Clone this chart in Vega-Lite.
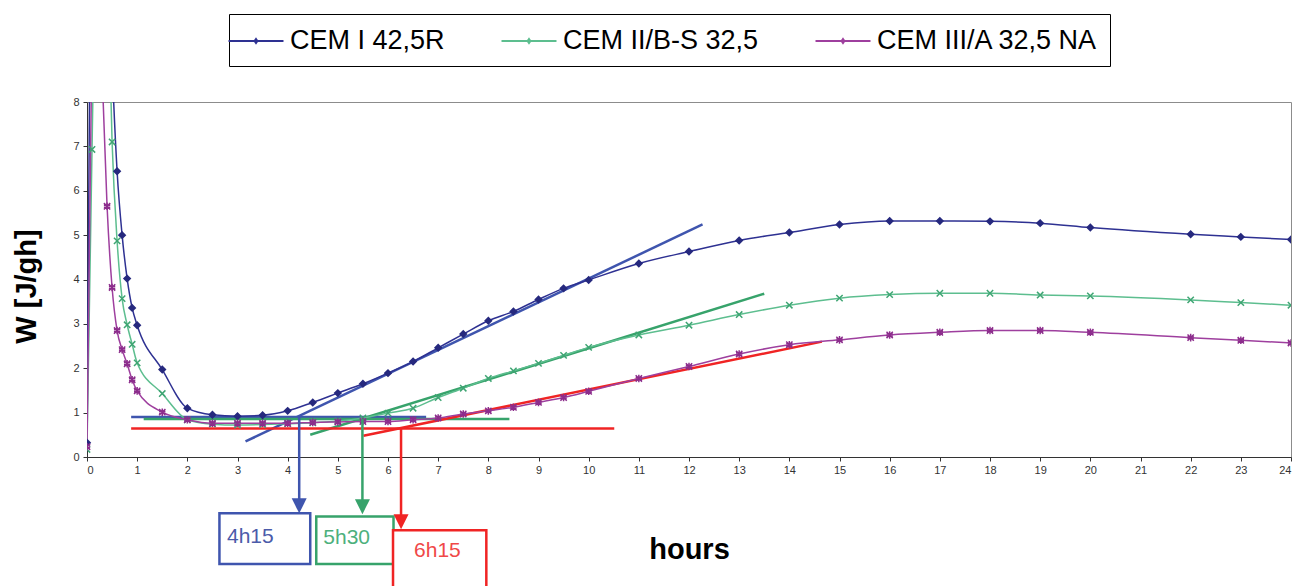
{
  "$schema": "https://vega.github.io/schema/vega-lite/v6.json",
  "width": 1204,
  "height": 355,
  "autosize": {"type": "none"},
  "padding": {"left": 87, "top": 102, "right": 8, "bottom": 129},
  "background": "white",
  "config": {"view": {"stroke": "#8c8c8c", "strokeWidth": 1}, "font": "Liberation Sans"},
  "datasets": {
    "curves": [
      {"s": "CEM I 42,5R", "h": 0, "w": 0.32}, {"s": "CEM I 42,5R", "h": 0.1, "w": 16}, {"s": "CEM I 42,5R", "h": 0.2, "w": 20}, {"s": "CEM I 42,5R", "h": 0.3, "w": 17}, {"s": "CEM I 42,5R", "h": 0.4, "w": 12.5}, {"s": "CEM I 42,5R", "h": 0.5, "w": 8.9}, {"s": "CEM I 42,5R", "h": 0.6, "w": 6.44}, {"s": "CEM I 42,5R", "h": 0.7, "w": 5.0}, {"s": "CEM I 42,5R", "h": 0.8, "w": 4.02}, {"s": "CEM I 42,5R", "h": 0.9, "w": 3.36}, {"s": "CEM I 42,5R", "h": 1.0, "w": 2.97}, {"s": "CEM I 42,5R", "h": 1.5, "w": 1.97}, {"s": "CEM I 42,5R", "h": 2.0, "w": 1.10}, {"s": "CEM I 42,5R", "h": 2.5, "w": 0.95}, {"s": "CEM I 42,5R", "h": 3.0, "w": 0.92}, {"s": "CEM I 42,5R", "h": 3.5, "w": 0.94}, {"s": "CEM I 42,5R", "h": 4.0, "w": 1.04}, {"s": "CEM I 42,5R", "h": 4.5, "w": 1.23}, {"s": "CEM I 42,5R", "h": 5.0, "w": 1.44}, {"s": "CEM I 42,5R", "h": 5.5, "w": 1.65}, {"s": "CEM I 42,5R", "h": 6.0, "w": 1.89}, {"s": "CEM I 42,5R", "h": 6.5, "w": 2.15}, {"s": "CEM I 42,5R", "h": 7.0, "w": 2.46}, {"s": "CEM I 42,5R", "h": 7.5, "w": 2.77}, {"s": "CEM I 42,5R", "h": 8.0, "w": 3.07}, {"s": "CEM I 42,5R", "h": 8.5, "w": 3.28}, {"s": "CEM I 42,5R", "h": 9.0, "w": 3.55}, {"s": "CEM I 42,5R", "h": 9.5, "w": 3.80}, {"s": "CEM I 42,5R", "h": 10, "w": 3.99}, {"s": "CEM I 42,5R", "h": 11, "w": 4.36}, {"s": "CEM I 42,5R", "h": 12, "w": 4.63}, {"s": "CEM I 42,5R", "h": 13, "w": 4.88}, {"s": "CEM I 42,5R", "h": 14, "w": 5.06}, {"s": "CEM I 42,5R", "h": 15, "w": 5.24}, {"s": "CEM I 42,5R", "h": 16, "w": 5.32}, {"s": "CEM I 42,5R", "h": 17, "w": 5.32}, {"s": "CEM I 42,5R", "h": 18, "w": 5.31}, {"s": "CEM I 42,5R", "h": 19, "w": 5.27}, {"s": "CEM I 42,5R", "h": 20, "w": 5.17}, {"s": "CEM I 42,5R", "h": 22, "w": 5.02}, {"s": "CEM I 42,5R", "h": 23, "w": 4.96}, {"s": "CEM I 42,5R", "h": 24, "w": 4.90},
      {"s": "CEM II/B-S 32,5", "h": 0, "w": 0.17}, {"s": "CEM II/B-S 32,5", "h": 0.1, "w": 6.93}, {"s": "CEM II/B-S 32,5", "h": 0.2, "w": 13}, {"s": "CEM II/B-S 32,5", "h": 0.3, "w": 14}, {"s": "CEM II/B-S 32,5", "h": 0.4, "w": 11.5}, {"s": "CEM II/B-S 32,5", "h": 0.5, "w": 7.1}, {"s": "CEM II/B-S 32,5", "h": 0.6, "w": 4.87}, {"s": "CEM II/B-S 32,5", "h": 0.7, "w": 3.57}, {"s": "CEM II/B-S 32,5", "h": 0.8, "w": 2.98}, {"s": "CEM II/B-S 32,5", "h": 0.9, "w": 2.54}, {"s": "CEM II/B-S 32,5", "h": 1.0, "w": 2.12}, {"s": "CEM II/B-S 32,5", "h": 1.5, "w": 1.43}, {"s": "CEM II/B-S 32,5", "h": 2.0, "w": 0.84}, {"s": "CEM II/B-S 32,5", "h": 2.5, "w": 0.74}, {"s": "CEM II/B-S 32,5", "h": 3.0, "w": 0.72}, {"s": "CEM II/B-S 32,5", "h": 3.5, "w": 0.73}, {"s": "CEM II/B-S 32,5", "h": 4.0, "w": 0.75}, {"s": "CEM II/B-S 32,5", "h": 4.5, "w": 0.77}, {"s": "CEM II/B-S 32,5", "h": 5.0, "w": 0.81}, {"s": "CEM II/B-S 32,5", "h": 5.5, "w": 0.88}, {"s": "CEM II/B-S 32,5", "h": 6.0, "w": 0.99}, {"s": "CEM II/B-S 32,5", "h": 6.5, "w": 1.10}, {"s": "CEM II/B-S 32,5", "h": 7.0, "w": 1.34}, {"s": "CEM II/B-S 32,5", "h": 7.5, "w": 1.55}, {"s": "CEM II/B-S 32,5", "h": 8.0, "w": 1.77}, {"s": "CEM II/B-S 32,5", "h": 8.5, "w": 1.94}, {"s": "CEM II/B-S 32,5", "h": 9.0, "w": 2.11}, {"s": "CEM II/B-S 32,5", "h": 9.5, "w": 2.29}, {"s": "CEM II/B-S 32,5", "h": 10, "w": 2.47}, {"s": "CEM II/B-S 32,5", "h": 11, "w": 2.75}, {"s": "CEM II/B-S 32,5", "h": 12, "w": 2.97}, {"s": "CEM II/B-S 32,5", "h": 13, "w": 3.21}, {"s": "CEM II/B-S 32,5", "h": 14, "w": 3.42}, {"s": "CEM II/B-S 32,5", "h": 15, "w": 3.58}, {"s": "CEM II/B-S 32,5", "h": 16, "w": 3.66}, {"s": "CEM II/B-S 32,5", "h": 17, "w": 3.69}, {"s": "CEM II/B-S 32,5", "h": 18, "w": 3.69}, {"s": "CEM II/B-S 32,5", "h": 19, "w": 3.65}, {"s": "CEM II/B-S 32,5", "h": 20, "w": 3.63}, {"s": "CEM II/B-S 32,5", "h": 22, "w": 3.54}, {"s": "CEM II/B-S 32,5", "h": 23, "w": 3.48}, {"s": "CEM II/B-S 32,5", "h": 24, "w": 3.42},
      {"s": "CEM III/A 32,5 NA", "h": 0, "w": 0.23}, {"s": "CEM III/A 32,5 NA", "h": 0.1, "w": 9.5}, {"s": "CEM III/A 32,5 NA", "h": 0.2, "w": 11}, {"s": "CEM III/A 32,5 NA", "h": 0.3, "w": 8.7}, {"s": "CEM III/A 32,5 NA", "h": 0.4, "w": 5.65}, {"s": "CEM III/A 32,5 NA", "h": 0.5, "w": 3.82}, {"s": "CEM III/A 32,5 NA", "h": 0.6, "w": 2.85}, {"s": "CEM III/A 32,5 NA", "h": 0.7, "w": 2.42}, {"s": "CEM III/A 32,5 NA", "h": 0.8, "w": 2.10}, {"s": "CEM III/A 32,5 NA", "h": 0.9, "w": 1.74}, {"s": "CEM III/A 32,5 NA", "h": 1.0, "w": 1.49}, {"s": "CEM III/A 32,5 NA", "h": 1.5, "w": 1.01}, {"s": "CEM III/A 32,5 NA", "h": 2.0, "w": 0.84}, {"s": "CEM III/A 32,5 NA", "h": 2.5, "w": 0.76}, {"s": "CEM III/A 32,5 NA", "h": 3.0, "w": 0.76}, {"s": "CEM III/A 32,5 NA", "h": 3.5, "w": 0.76}, {"s": "CEM III/A 32,5 NA", "h": 4.0, "w": 0.76}, {"s": "CEM III/A 32,5 NA", "h": 4.5, "w": 0.78}, {"s": "CEM III/A 32,5 NA", "h": 5.0, "w": 0.79}, {"s": "CEM III/A 32,5 NA", "h": 5.5, "w": 0.80}, {"s": "CEM III/A 32,5 NA", "h": 6.0, "w": 0.80}, {"s": "CEM III/A 32,5 NA", "h": 6.5, "w": 0.84}, {"s": "CEM III/A 32,5 NA", "h": 7.0, "w": 0.88}, {"s": "CEM III/A 32,5 NA", "h": 7.5, "w": 0.97}, {"s": "CEM III/A 32,5 NA", "h": 8.0, "w": 1.04}, {"s": "CEM III/A 32,5 NA", "h": 8.5, "w": 1.12}, {"s": "CEM III/A 32,5 NA", "h": 9.0, "w": 1.23}, {"s": "CEM III/A 32,5 NA", "h": 9.5, "w": 1.34}, {"s": "CEM III/A 32,5 NA", "h": 10, "w": 1.48}, {"s": "CEM III/A 32,5 NA", "h": 11, "w": 1.77}, {"s": "CEM III/A 32,5 NA", "h": 12, "w": 2.04}, {"s": "CEM III/A 32,5 NA", "h": 13, "w": 2.32}, {"s": "CEM III/A 32,5 NA", "h": 14, "w": 2.53}, {"s": "CEM III/A 32,5 NA", "h": 15, "w": 2.64}, {"s": "CEM III/A 32,5 NA", "h": 16, "w": 2.75}, {"s": "CEM III/A 32,5 NA", "h": 17, "w": 2.81}, {"s": "CEM III/A 32,5 NA", "h": 18, "w": 2.85}, {"s": "CEM III/A 32,5 NA", "h": 19, "w": 2.85}, {"s": "CEM III/A 32,5 NA", "h": 20, "w": 2.81}, {"s": "CEM III/A 32,5 NA", "h": 22, "w": 2.69}, {"s": "CEM III/A 32,5 NA", "h": 23, "w": 2.63}, {"s": "CEM III/A 32,5 NA", "h": 24, "w": 2.57}
    ],
    "guides": [
      {"g": "4h15", "k": "level", "h": 0.88, "w": 0.90}, {"g": "4h15", "k": "level", "h": 6.76, "w": 0.90},
      {"g": "4h15", "k": "tangent", "h": 3.16, "w": 0.35}, {"g": "4h15", "k": "tangent", "h": 12.27, "w": 5.24},
      {"g": "5h30", "k": "level", "h": 1.13, "w": 0.855}, {"g": "5h30", "k": "level", "h": 8.42, "w": 0.855},
      {"g": "5h30", "k": "tangent", "h": 4.45, "w": 0.50}, {"g": "5h30", "k": "tangent", "h": 13.5, "w": 3.68},
      {"g": "6h15", "k": "level", "h": 0.88, "w": 0.64}, {"g": "6h15", "k": "level", "h": 10.51, "w": 0.64},
      {"g": "6h15", "k": "tangent", "h": 5.51, "w": 0.48}, {"g": "6h15", "k": "tangent", "h": 14.65, "w": 2.60}
    ],
    "boxes": [
      {"g": "4h15", "h": 2.64, "h2": 4.45, "w": -1.27, "w2": -2.41},
      {"g": "5h30", "h": 4.57, "h2": 6.11, "w": -1.34, "w2": -2.41},
      {"g": "6h15", "h": 6.10, "h2": 7.96, "w": -1.65, "w2": -3.1}
    ],
    "arrows": [
      {"g": "4h15", "h": 4.23, "w": 0.90, "w2": -1.0},
      {"g": "5h30", "h": 5.49, "w": 0.855, "w2": -1.0},
      {"g": "6h15", "h": 6.26, "w": 0.64, "w2": -1.4}
    ],
    "heads": [
      {"g": "4h15", "h": 4.23, "w": -1.27},
      {"g": "5h30", "h": 5.49, "w": -1.29},
      {"g": "6h15", "h": 6.26, "w": -1.63}
    ],
    "labels": [
      {"g": "4h15", "h": 2.79, "w": -1.94},
      {"g": "5h30", "h": 4.71, "w": -1.97},
      {"g": "6h15", "h": 6.52, "w": -2.26}
    ]
  },
  "encoding": {
    "x": {
      "field": "h", "type": "quantitative",
      "scale": {"domain": [0, 24], "nice": false, "zero": false},
      "axis": {
        "values": [0,1,2,3,4,5,6,7,8,9,10,11,12,13,14,15,16,17,18,19,20,21,22,23,24],
        "grid": false, "labelFontSize": 11, "labelColor": "#333", "labelPadding": 3,
        "domainColor": "#333", "tickColor": "#333", "tickSize": 4,
        "title": "hours", "titleFontSize": 29, "titleFontWeight": "bold", "titleColor": "black",
        "titleX": 602, "titleY": 101, "titleBaseline": "alphabetic", "titleAlign": "center"
      }
    },
    "y": {
      "field": "w", "type": "quantitative",
      "scale": {"domain": [0, 8], "nice": false, "zero": false},
      "axis": {
        "values": [0,1,2,3,4,5,6,7,8],
        "grid": false, "labelFontSize": 11, "labelColor": "#333", "labelPadding": 4,
        "domainColor": "#333", "tickColor": "#333", "tickSize": 4,
        "title": "W [J/gh]", "titleFontSize": 29, "titleFontWeight": "bold", "titleColor": "black",
        "titleX": -52, "titleY": 184, "titleAngle": -90, "titleBaseline": "alphabetic", "titleAlign": "center"
      }
    }
  },
  "layer": [
    {
      "data": {"name": "guides"},
      "mark": {"type": "line", "strokeWidth": 2.5, "clip": false},
      "encoding": {
        "color": {"field": "g", "type": "nominal", "scale": {"domain": ["4h15", "5h30", "6h15"], "range": ["#3F55AE", "#37A36B", "#F02424"]}, "legend": null},
        "detail": {"field": "k"}
      }
    },
    {
      "data": {"name": "curves"},
      "mark": {"type": "line", "strokeWidth": 1.5, "interpolate": "monotone", "clip": true},
      "encoding": {
        "color": {
          "field": "s", "type": "nominal",
          "scale": {"domain": ["CEM I 42,5R", "CEM II/B-S 32,5", "CEM III/A 32,5 NA"], "range": ["#2E3192", "#5DBE8F", "#9E3F9E"]},
          "legend": {
            "orient": "none", "legendX": 142, "legendY": -88, "direction": "horizontal", "title": null,
            "symbolType": "M-2,0L2,0M0,-0.14L0.1,0L0,0.14L-0.1,0Z", "symbolSize": 756, "symbolStrokeWidth": 2,
            "labelFontSize": 27, "labelFont": "Liberation Sans", "labelColor": "black", "labelOffset": 19, "labelLimit": 0,
            "columnPadding": 52, "strokeColor": "black", "fillColor": "white", "padding": 12
          }
        }
      }
    },
    {
      "data": {"name": "curves"},
      "mark": {"type": "point", "filled": true, "size": 40, "strokeWidth": 1.5, "opacity": 1, "clip": true},
      "encoding": {
        "fill": {"field": "s", "type": "nominal", "scale": {"domain": ["CEM I 42,5R", "CEM II/B-S 32,5", "CEM III/A 32,5 NA"], "range": ["#26297E", "#3FA573", "#8C2D8C"]}, "legend": null},
        "stroke": {"field": "s", "type": "nominal", "scale": {"domain": ["CEM I 42,5R", "CEM II/B-S 32,5", "CEM III/A 32,5 NA"], "range": ["#26297E", "#3FA573", "#8C2D8C"]}, "legend": null},
        "shape": {"field": "s", "type": "nominal", "scale": {"domain": ["CEM I 42,5R", "CEM II/B-S 32,5", "CEM III/A 32,5 NA"], "range": ["diamond", "M-1,-1L1,1M1,-1L-1,1", "M-1,-1L1,1M1,-1L-1,1M0,-1.2L0,1.2M-1,-0.3L1,-0.3M-1,0.3L1,0.3"]}, "legend": null}
      }
    },
    {
      "data": {"name": "boxes"},
      "mark": {"type": "rect", "fill": "white", "strokeWidth": 2.5, "clip": false},
      "encoding": {
        "x2": {"field": "h2"},
        "y2": {"field": "w2"},
        "stroke": {"field": "g", "type": "nominal", "scale": {"domain": ["4h15", "5h30", "6h15"], "range": ["#3F55AE", "#37A36B", "#F02424"]}, "legend": null}
      }
    },
    {
      "data": {"name": "arrows"},
      "mark": {"type": "rule", "strokeWidth": 2.5, "clip": false},
      "encoding": {
        "y2": {"field": "w2"},
        "color": {"field": "g", "type": "nominal", "scale": {"domain": ["4h15", "5h30", "6h15"], "range": ["#3F55AE", "#37A36B", "#F02424"]}, "legend": null}
      }
    },
    {
      "data": {"name": "heads"},
      "mark": {"type": "point", "shape": "M-1,-2L1,-2L0,0Z", "size": 225, "filled": true, "opacity": 1, "clip": false},
      "encoding": {
        "color": {"field": "g", "type": "nominal", "scale": {"domain": ["4h15", "5h30", "6h15"], "range": ["#3F55AE", "#37A36B", "#F02424"]}, "legend": null}
      }
    },
    {
      "data": {"name": "labels"},
      "mark": {"type": "text", "align": "left", "baseline": "alphabetic", "fontSize": 21, "font": "Liberation Sans", "clip": false},
      "encoding": {
        "text": {"field": "g"},
        "color": {"field": "g", "type": "nominal", "scale": {"domain": ["4h15", "5h30", "6h15"], "range": ["#4B5BAA", "#4DB07C", "#F04848"]}, "legend": null}
      }
    }
  ],
  "resolve": {"scale": {"color": "independent", "stroke": "independent", "fill": "independent", "shape": "independent"}}
}
